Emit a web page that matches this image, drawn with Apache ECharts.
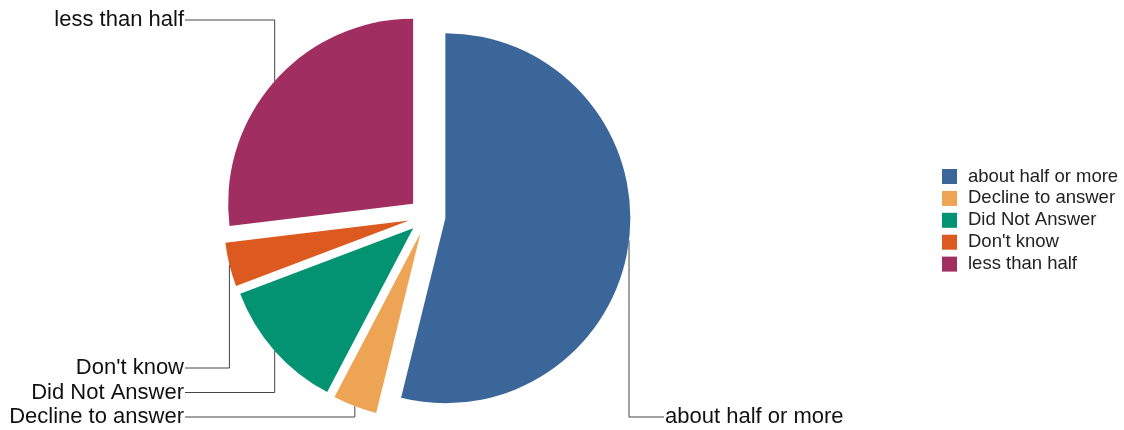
<!DOCTYPE html>
<html>
<head>
<meta charset="utf-8">
<style>
  html, body { margin: 0; padding: 0; background: #fff; }
  #chart { width: 1124px; height: 430px; }
</style>
<script src="https://cdn.jsdelivr.net/npm/echarts@6/dist/echarts.min.js"></script>
</head>
<body>
<div id="chart"></div>
<script>
// Survey answers and their response counts
const categories = ['about half or more', 'Decline to answer', 'Did Not Answer', "Don't know", 'less than half'];
const counts = [14, 1, 3, 1, 7];
const palette = ['#3b6699', '#eda454', '#039372', '#dc5a20', '#a12e60'];

const FONT = 'Liberation Sans, Arial, sans-serif';
const CENTER = [427, 216];
const RADIUS = 185;
const EXPLODE = 18.5;
const LEFT_LABEL_X = 184;
const RIGHT_LABEL_X = 665;
const TOP_LABEL_Y = 20;
const BOTTOM_LABEL_Y = 417;
const ROW_STEP = 24.5;

// Mid angle of each slice (clockwise from 12 o'clock), used to stack the lower-left labels
const total = counts.reduce((a, b) => a + b, 0);
let acc = 0;
const midAngles = counts.map(v => { const m = (acc + v / 2) / total * 360; acc += v; return m; });
const lowerLeft = midAngles.map((m, i) => ({ m, i })).filter(d => d.m > 180 && d.m < 270)
  .sort((a, b) => a.m - b.m).map(d => d.i);

const chart = echarts.init(document.getElementById('chart'), null, { renderer: 'canvas' });

chart.setOption({
  animation: false,
  color: palette,
  legend: {
    orient: 'vertical',
    left: 937,
    top: 162,
    itemWidth: 15,
    itemHeight: 15,
    itemGap: 2.9,
    icon: 'rect',
    selectedMode: false,
    textStyle: { fontSize: 18.5, color: '#222', fontFamily: FONT, padding: [0, 0, 0, 6] },
    data: categories
  },
  series: [
    {
      // exploded slices
      type: 'pie',
      center: CENTER,
      radius: RADIUS,
      startAngle: 90,
      clockwise: true,
      selectedMode: 'multiple',
      selectedOffset: EXPLODE,
      emphasis: { scale: false },
      itemStyle: { borderWidth: 0 },
      label: { show: false },
      labelLine: { show: false },
      data: categories.map((name, i) => ({ name: name, value: counts[i], selected: true }))
    },
    {
      // elbow callouts for the exploded slices
      type: 'pie',
      center: CENTER,
      radius: RADIUS,
      startAngle: 90,
      clockwise: true,
      silent: true,
      selectedMode: false,
      emphasis: { disabled: true },
      itemStyle: { color: 'rgba(0,0,0,0)', borderWidth: 0 },
      label: {
        show: true,
        position: 'outside',
        fontSize: 22,
        color: '#111',
        fontFamily: FONT,
        formatter: '{b}'
      },
      labelLine: {
        show: true,
        length: 10,
        length2: 10,
        lineStyle: { color: '#444', width: 1 }
      },
      labelLayout: function (params) {
        const pts = params.labelLinePoints;
        if (!pts) return {};
        const p0 = pts[0], p1 = pts[1];
        const len = Math.hypot(p1[0] - p0[0], p1[1] - p0[1]) || 1;
        const ux = (p1[0] - p0[0]) / len, uy = (p1[1] - p0[1]) / len;
        // start on the arc of the exploded slice
        const sx = p0[0] + ux * EXPLODE, sy = p0[1] + uy * EXPLODE;
        const i = params.dataIndex;
        let lx, ly, align;
        if (ux > 0) {
          lx = RIGHT_LABEL_X; ly = BOTTOM_LABEL_Y; align = 'left';
        } else if (lowerLeft.indexOf(i) < 0) {
          lx = LEFT_LABEL_X; ly = TOP_LABEL_Y; align = 'right';
        } else {
          lx = LEFT_LABEL_X; ly = BOTTOM_LABEL_Y - lowerLeft.indexOf(i) * ROW_STEP; align = 'right';
        }
        const ex = align === 'left' ? lx - 1 : lx + 1;
        return {
          x: lx, y: ly, align: align, verticalAlign: 'middle',
          labelLinePoints: [[sx, sy], [sx, ly], [ex, ly]]
        };
      },
      data: categories.map((name, i) => ({ name: name, value: counts[i] }))
    }
  ]
});
</script>
</body>
</html>
